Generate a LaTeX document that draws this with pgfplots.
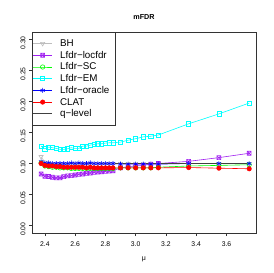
\documentclass[border=0pt]{standalone}
\usepackage{pgfplots}
\pgfplotsset{compat=1.18}
\usepackage{pgfplotstable}
\usepackage{fontspec}
\setmainfont{Liberation Sans}
\definecolor{rpurple}{HTML}{A020F0}
\definecolor{rgreen}{HTML}{00FF00}
\definecolor{rcyan}{HTML}{00FFFF}
\definecolor{rblue}{HTML}{0000FF}
\definecolor{rred}{HTML}{FF0000}
\definecolor{rgray}{HTML}{BEBEBE}
\pgfdeclareplotmark{boxx}{%
  \pgfpathrectangle{\pgfpoint{-\pgfplotmarksize}{-\pgfplotmarksize}}{\pgfpoint{2\pgfplotmarksize}{2\pgfplotmarksize}}%
  \pgfpathmoveto{\pgfpoint{-\pgfplotmarksize}{-\pgfplotmarksize}}\pgfpathlineto{\pgfpoint{\pgfplotmarksize}{\pgfplotmarksize}}%
  \pgfpathmoveto{\pgfpoint{-\pgfplotmarksize}{\pgfplotmarksize}}\pgfpathlineto{\pgfpoint{\pgfplotmarksize}{-\pgfplotmarksize}}%
  \pgfusepathqstroke}
\pgfplotstableread{
x     bh     loc     sc     em      orc    clat   q
2.375 0.111  0.0831  0.101  0.1280  0.103  0.100  0.10
2.400 0.102  0.0794  0.096  0.1238  0.101  0.097  0.10
2.425 0.101  0.0790  0.095  0.1265  0.101  0.096  0.10
2.450 0.100  0.0778  0.094  0.1255  0.100  0.096  0.10
2.475 0.100  0.0768  0.094  0.1244  0.100  0.095  0.10
2.500 0.100  0.0768  0.093  0.1228  0.100  0.095  0.10
2.525 0.100  0.0789  0.093  0.1228  0.100  0.094  0.10
2.550 0.100  0.0800  0.093  0.1238  0.100  0.094  0.10
2.575 0.100  0.0805  0.092  0.1255  0.101  0.094  0.10
2.600 0.100  0.0815  0.092  0.1244  0.100  0.094  0.10
2.625 0.100  0.0825  0.092  0.1244  0.101  0.094  0.10
2.650 0.100  0.0831  0.092  0.1280  0.100  0.094  0.10
2.675 0.100  0.0842  0.092  0.1280  0.100  0.093  0.10
2.700 0.100  0.0847  0.092  0.1297  0.101  0.094  0.10
2.725 0.100  0.0858  0.092  0.1307  0.100  0.093  0.10
2.750 0.100  0.0863  0.092  0.1318  0.100  0.093  0.10
2.775 0.100  0.0868  0.092  0.1318  0.100  0.093  0.10
2.800 0.100  0.0873  0.092  0.1329  0.100  0.093  0.10
2.825 0.100  0.0880  0.092  0.1334  0.100  0.093  0.10
2.850 0.100  0.0884  0.092  0.1334  0.100  0.093  0.10
2.900 0.100  0.0930  0.093  0.1345  0.099  0.093  0.10
2.950 0.100  0.0950  0.093  0.1376  0.099  0.093  0.10
3.000 0.100  0.0960  0.093  0.1400  0.099  0.093  0.10
3.050 0.100  0.0970  0.093  0.1430  0.099  0.093  0.10
3.100 0.100  0.0990  0.093  0.1440  0.099  0.093  0.10
3.150 0.100  0.1000  0.094  0.1460  0.099  0.093  0.10
3.350 0.100  0.1035  0.096  0.1640  0.100  0.0935 0.10
3.550 0.100  0.1095  0.097  0.1800  0.100  0.0925 0.10
3.750 0.100  0.1165  0.098  0.1975  0.100  0.0915 0.10
}\data
\begin{document}
\begin{tikzpicture}
\begin{axis}[
  at={(0,0)}, anchor=south west,
  scale only axis, width=224pt, height=201pt,
  xmin=2.315, xmax=3.795, ymin=-0.012, ymax=0.312,
  xtick={2.4,2.6,2.8,3.0,3.2,3.4,3.6},
  ytick={0,0.05,0.1,0.15,0.2,0.25,0.3},
  xticklabels={2.4,2.6,2.8,3.0,3.2,3.4,3.6},
  yticklabels={0.00,0.05,0.10,0.15,0.20,0.25,0.30},
  tick align=outside, xtick pos=bottom, ytick pos=left,
  major tick length=3pt,
  tick style={black!80, line width=0.5pt},
  axis line style={black!80, line width=0.6pt},
  xticklabel style={font=\fontsize{6.8}{8}\selectfont, yshift=-2pt},
  yticklabel style={font=\fontsize{6.8}{8}\selectfont, rotate=90, anchor=south, xshift=-3.5pt},
  title={\textbf{mFDR}},
  title style={font=\fontsize{7.2}{8}\selectfont, at={(0.5,1)}, anchor=base, yshift=6pt},
  xlabel={μ},
  xlabel style={font=\fontsize{7}{8}\selectfont, at={(0.5,0)}, anchor=base, yshift=-27pt},
  legend style={at={(0,1)}, anchor=north west, draw=black!80, line width=0.5pt,
    font=\fontsize{9.8}{11}\selectfont, inner xsep=0.5pt, inner ysep=5.5pt,
    nodes={text height=8.2pt, text depth=2.3pt, inner sep=0.6pt},
    row sep=0pt, column sep=7pt},
  legend cell align=left,
  legend image code/.code={\draw[mark repeat=2,mark phase=2] plot coordinates {(0pt,0pt) (9.5pt,0pt) (19pt,0pt)};},
  every axis plot/.append style={line width=0.6pt},
  clip=false,
]
\addplot[color=rgray, mark=triangle, mark options={rotate=180}, mark size=2.4pt] table[x=x,y=bh]{\data};
\addlegendentry{BH}
\addplot[color=rpurple, mark=boxx, mark size=2pt] table[x=x,y=loc]{\data};
\addlegendentry{Lfdr−locfdr}
\addplot[color=rgreen, mark=o, mark size=2.2pt] table[x=x,y=sc]{\data};
\addlegendentry{Lfdr−SC}
\addplot[color=rcyan, mark=square, mark size=2.1pt] table[x=x,y=em]{\data};
\addlegendentry{Lfdr−EM}
\addplot[color=rblue, mark=asterisk, mark size=2.4pt] table[x=x,y=orc]{\data};
\addlegendentry{Lfdr−oracle\hspace*{5pt}}
\addplot[color=rred, mark=*, mark size=2.2pt] table[x=x,y=clat]{\data};
\addlegendentry{CLAT}
\addplot[color=black!75, line width=0.8pt, no marks] table[x=x,y=q]{\data};
\addlegendentry{q−level}
\end{axis}
\path[use as bounding box] (-32pt,-40pt) rectangle (241pt,233pt);
\end{tikzpicture}
\end{document}
